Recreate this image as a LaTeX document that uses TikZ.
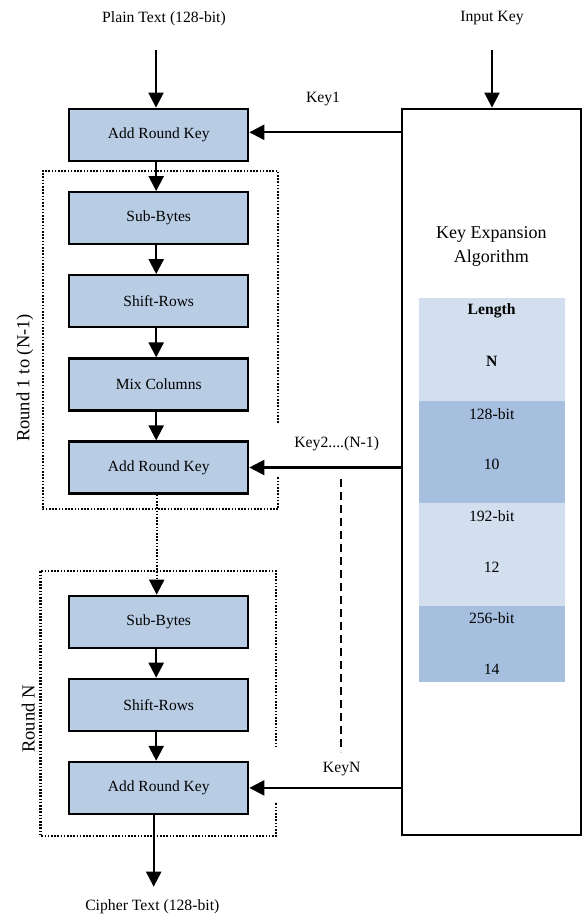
\documentclass[tikz,border=0pt]{standalone}
\usepackage{fontspec}
\setmainfont{Liberation Serif}
\usetikzlibrary{arrows.meta}
\definecolor{boxfill}{HTML}{B8CCE4}
\definecolor{rowlight}{HTML}{D3DFEE}
\definecolor{rowdark}{HTML}{A7BFDE}
\begin{document}
\begin{tikzpicture}[x=1pt,y=-1pt,
  stage/.style={draw, line width=2.2pt, fill=boxfill, minimum width=179pt,
    minimum height=52pt, inner sep=0pt, font=\fontsize{15.5}{18}\selectfont},
  flow/.style={line width=2.2pt, -{Triangle[length=15pt,width=15pt]}},
  roundframe/.style={line width=2.1pt, dash pattern=on 1.6pt off 1.6pt},
  keyline/.style={line width=2.2pt, dash pattern=on 8pt off 5pt},
  lbl/.style={font=\fontsize{15.7}{18}\selectfont, inner sep=0pt},
  bigl/.style={font=\fontsize{18.5}{22}\selectfont, inner sep=0pt, rotate=90},
  cell/.style={font=\fontsize{15.7}{18}\selectfont, inner sep=0pt}]
\useasboundingbox (0,0) rectangle (582,915);

% key schedule block
\node[draw, line width=2.2pt, minimum width=179pt, minimum height=726.6pt,
  inner sep=0pt] (kexp) at (491.5,472) {};
\node[font=\fontsize{18}{24}\selectfont, align=center, inner sep=0pt]
  (kexptext) at (491.3,246.3) {Key Expansion\\Algorithm};

% round-count table
\fill[rowlight] (418.5,298.3) rectangle (565,401);
\fill[rowdark]  (418.5,401)   rectangle (565,502.7);
\fill[rowlight] (418.5,502.7) rectangle (565,606);
\fill[rowdark]  (418.5,606)   rectangle (565,681.7);
\node[cell] (tlen) at (491.7,310.7) {\textbf{Length}};
\node[cell] (tn)   at (491.7,361.7) {\textbf{N}};
\node[cell] (t128) at (491.7,414.3) {128-bit};
\node[cell] (t10)  at (491.7,464.3) {10};
\node[cell] (t192) at (491.7,516)   {192-bit};
\node[cell] (t12)  at (491.7,567.3) {12};
\node[cell] (t256) at (491.7,618.3) {256-bit};
\node[cell] (t14)  at (491.7,669.3) {14};

% cipher stages
\node[stage] (ark1) at (158.7,134.7) {Add Round Key};
\node[stage] (sb1)  at (158.7,218.2) {Sub-Bytes};
\node[stage] (sr1)  at (158.7,301.2) {Shift-Rows};
\node[stage] (mc1)  at (158.7,384.5) {Mix Columns};
\node[stage] (ark2) at (158.7,467.5) {Add Round Key};
\node[stage] (sbN)  at (158.7,621.8) {Sub-Bytes};
\node[stage] (srN)  at (158.7,704.8) {Shift-Rows};
\node[stage] (arkN) at (158.7,787.9) {Add Round Key};

% round frames
\draw[roundframe] (278,423) -- (278,171) -- (42.7,171) -- (42.7,509.3)
  -- (278,509.3) -- (278,476.5);
\draw[roundframe] (276,747.3) -- (276,570.7) -- (40.5,570.7) -- (40.5,836)
  -- (276,836) -- (276,801.7);
\node[bigl] (r1lbl) at (25,378) {Round 1 to (N-1)};
\node[bigl] (rNlbl) at (28.3,719) {Round N};

% inputs and output
\node[lbl] (pt) at (164,18.3) {Plain Text (128-bit)};
\node[lbl] (ik) at (492,18.3) {Input Key};
\node[lbl] (ct) at (152.3,906.7) {Cipher Text (128-bit)};
\coordinate (ptin) at (156,50);
\coordinate (kin) at (492,50);
\coordinate (ctout) at (153.7,886.7);
\draw[flow] (ptin) -- (ptin |- ark1.north);
\draw[flow] (kin) -- (kin |- kexp.north);
\draw[flow] (ctout |- arkN.south) -- (ctout);

% data path
\draw[flow] ([xshift=-2.5pt]ark1.south) -- ([xshift=-2.5pt]sb1.north);
\draw[flow] ([xshift=-2.5pt]sb1.south) -- ([xshift=-2.5pt]sr1.north);
\draw[flow] ([xshift=-2.5pt]sr1.south) -- ([xshift=-2.5pt]mc1.north);
\draw[flow] ([xshift=-2.5pt]mc1.south) -- ([xshift=-2.5pt]ark2.north);
\draw[roundframe, -{Triangle[length=15pt,width=15pt]}]
  ([xshift=-2pt]ark2.south) -- ([xshift=-2pt]sbN.north);
\draw[flow] ([xshift=-2.5pt]sbN.south) -- ([xshift=-2.5pt]srN.north);
\draw[flow] ([xshift=-2.5pt]srN.south) -- ([xshift=-2.5pt]arkN.north);

% round keys
\draw[flow] ([yshift=2.4pt]kexp.west |- ark1.east) -- ([yshift=2.4pt]ark1.east);
\draw[flow] (kexp.west |- ark2.east) -- (ark2.east);
\draw[flow] (kexp.west |- arkN.east) -- (arkN.east);
\node[lbl] (k1)  at (323,99.3)  {Key1};
\node[lbl] (k2)  at (336.7,444) {Key2....(N-1)};
\node[lbl] (kN)  at (341.7,769.3) {KeyN};
\coordinate (kd1) at (341,479.3);
\coordinate (kd2) at (341,752.3);
\draw[keyline] (kd1) -- (kd2);
\end{tikzpicture}
\end{document}
